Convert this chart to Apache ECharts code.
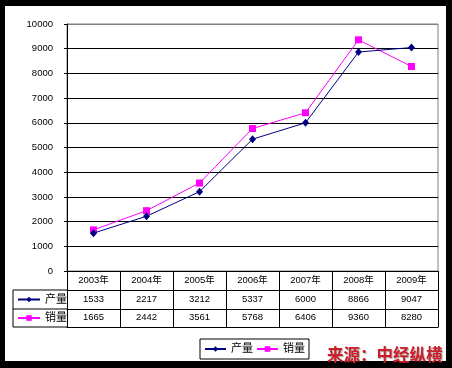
<!DOCTYPE html>
<html><head><meta charset="utf-8">
<script src="https://cdn.jsdelivr.net/npm/echarts@6/dist/echarts.min.js"></script>
<style>html,body{margin:0;padding:0;background:#000}#c{width:452px;height:368px}</style>
</head><body><div id="c"></div>
<script>
// ---- data ----
const categories = ['2003年','2004年','2005年','2006年','2007年','2008年','2009年'];
const seriesNames = ['产量','销量'];
const production = [1533,2217,3212,5337,6000,8866,9047];
const sales = [1665,2442,3561,5768,6406,9360,8280];
const yMin = 0, yMax = 10000, yInterval = 1000;
const sourceText = '来源：中经纵横';

// ---- layout / style ----
const G = {left:67, top:24, right:438, bottom:271};
const rowH = [19,19,18];
const headLeft = 13;
const font = "'Liberation Sans','Noto Sans CJK SC',sans-serif";
const navy = '#000080', magenta = '#FF00FF';

const chart = echarts.init(document.getElementById('c'), null, {renderer:'canvas'});

const r1 = G.bottom + rowH[0], r2 = r1 + rowH[1], r3 = r2 + rowH[2];
const gridLineColors = [];
for (let v = yMin; v <= yMax; v += yInterval) gridLineColors.push(v === yMax ? '#808080' : '#000');

function offsetAxis(off){
  return {type:'category', data:categories, gridIndex:0, position:'bottom', offset:off,
    axisLine:{show:true, lineStyle:{color:'#000', width:1}},
    axisTick:{show:false}, axisLabel:{show:false}, splitLine:{show:false}};
}
function headerLegend(name, rowTop, rowHeight){
  return {data:[name], orient:'horizontal', left:17, top:rowTop + rowHeight/2 - 7, padding:0,
     itemWidth:22, itemHeight:7, selectedMode:false,
     textStyle:{fontSize:11, color:'#000', fontFamily:font, lineHeight:14}};
}

chart.setOption({
  backgroundColor:'#000',
  animation:false,
  textStyle:{fontFamily:font, color:'#000'},
  grid:{left:G.left, top:G.top, width:G.right-G.left, height:G.bottom-G.top,
        show:true, borderColor:'#808080', borderWidth:1, backgroundColor:'transparent'},
  title:{text:sourceText, left:327, top:346, padding:0,
    textStyle:{fontFamily:"'Noto Sans CJK SC',sans-serif", fontSize:16.5, fontWeight:'bold', color:'#cc1f2a',
      textShadowColor:'rgba(0,0,0,0.35)', textShadowOffsetX:1, textShadowOffsetY:1, textShadowBlur:1}},
  legend:[
    {data:seriesNames, orient:'horizontal', left:200, top:339, padding:[3,4],
     itemWidth:21, itemHeight:7, itemGap:3, selectedMode:false,
     borderColor:'#000', borderWidth:1, backgroundColor:'#fff',
     textStyle:{fontSize:11, color:'#000', fontFamily:font, lineHeight:14}},
    headerLegend(seriesNames[0], r1, rowH[1]),
    headerLegend(seriesNames[1], r2, rowH[2])
  ],
  xAxis:[
    {type:'category', data:categories, gridIndex:0, boundaryGap:true,
     axisLine:{show:true, lineStyle:{color:'#000', width:1}},
     axisTick:{show:true, alignWithLabel:false, length:r3-G.bottom, lineStyle:{color:'#000', width:1}},
     axisLabel:{show:true, margin:0, interval:0, fontSize:9.5, color:'#000', lineHeight:18.7,
       formatter:(v, i) => v + '\n' + production[i] + '\n' + sales[i]},
     splitLine:{show:false}},
    offsetAxis(rowH[0]),
    offsetAxis(rowH[0]+rowH[1]),
    offsetAxis(rowH[0]+rowH[1]+rowH[2])
  ],
  yAxis:{type:'value', min:yMin, max:yMax, interval:yInterval,
    axisLine:{show:true, lineStyle:{color:'#000', width:1}},
    axisTick:{show:true, length:3, lineStyle:{color:'#000'}},
    axisLabel:{fontSize:9.5, color:'#000', margin:14, formatter:v => String(v)},
    splitLine:{show:true, lineStyle:{color:gridLineColors, width:1}}},
  series:[
    {name:seriesNames[0], type:'line', data:production, xAxisIndex:0,
     symbol:'diamond', symbolSize:[7,8], showSymbol:true,
     lineStyle:{color:navy, width:1}, itemStyle:{color:navy}, z:3},
    {name:seriesNames[1], type:'line', data:sales, xAxisIndex:0,
     symbol:'rect', symbolSize:7, showSymbol:true,
     lineStyle:{color:magenta, width:1}, itemStyle:{color:magenta}, z:2}
  ],
  graphic:[
    {type:'rect', shape:{x:5, y:6, width:441, height:355}, style:{fill:'#fff'}, z:-100, silent:true},
    {type:'polyline', shape:{points:[[G.left,r1],[headLeft,r1],[headLeft,r3],[G.left,r3]]},
     style:{stroke:'#000', lineWidth:1, fill:null}, z:10, silent:true},
    {type:'line', shape:{x1:headLeft, y1:r2, x2:G.left, y2:r2},
     style:{stroke:'#000', lineWidth:1}, z:10, silent:true}
  ]
});
</script></body></html>
